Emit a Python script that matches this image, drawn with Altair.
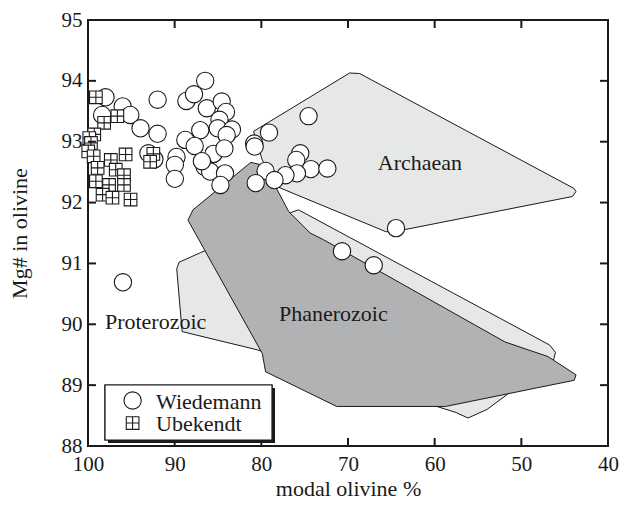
import altair as alt
import pandas as pd

# ---- data ----
W_X = [97.98, 96.0, 98.37, 95.12, 91.97, 93.94, 91.97, 93.03, 92.34, 89.79, 89.98, 89.98,
       88.65, 87.77, 86.48, 86.29, 84.57, 84.08, 84.83, 85.03, 83.39, 84.0, 87.05, 88.77,
       87.69, 85.52, 84.26, 86.55, 85.91, 84.19, 84.72, 86.86,
       74.55, 79.12, 80.83, 80.77, 75.51, 75.97, 74.29, 72.38, 75.89, 77.22, 79.51, 78.48,
       80.65, 64.46, 70.69, 67.03, 95.97]
W_Y = [93.73, 93.58, 93.44, 93.44, 93.69, 93.22, 93.13, 92.81, 92.71, 92.75, 92.62, 92.39,
       93.67, 93.78, 94.0, 93.55, 93.66, 93.49, 93.36, 93.22, 93.20, 93.11, 93.19, 93.03,
       92.93, 92.80, 92.89, 92.59, 92.51, 92.48, 92.29, 92.68,
       93.42, 93.15, 92.97, 92.92, 92.81, 92.70, 92.55, 92.56, 92.48, 92.45, 92.52, 92.37,
       92.32, 91.58, 91.20, 90.97, 90.69]

U_X = [99.09, 96.61, 98.14, 99.28, 99.85, 99.66, 99.97, 99.35, 97.37, 95.66, 92.46, 92.83,
       98.89, 96.8, 95.85, 99.09, 97.57, 95.85, 98.32, 97.18, 95.09]
U_Y = [93.73, 93.42, 93.31, 93.12, 93.06, 92.98, 92.84, 92.76, 92.70, 92.79, 92.80, 92.67,
       92.57, 92.54, 92.45, 92.35, 92.29, 92.29, 92.13, 92.08, 92.05]

ARCH_X = [80.9, 69.8, 68.65, 43.9, 43.7, 44.1, 63.3, 65.6, 78.17, 79.89, 80.9]
ARCH_Y = [93.17, 94.13, 94.12, 92.23, 92.18, 92.10, 91.56, 91.52, 92.26, 92.70, 93.17]

PROT_X = [89.49, 86.97, 76.34, 75.71, 46.74, 46.06, 46.29, 53.97, 56.15, 57.53, 80.46, 89.14, 89.76, 89.49]
PROT_Y = [91.02, 91.18, 91.85, 91.88, 89.66, 89.54, 89.41, 88.60, 88.46, 88.55, 89.58, 89.88, 90.91, 91.02]

PHAN_X = [88.46, 87.89, 81.22, 80.26, 78.17, 76.83, 74.37, 72.83, 51.89, 46.94, 43.69, 43.89,
          58.74, 71.31, 79.51, 79.89, 88.46]
PHAN_Y = [91.71, 91.88, 92.66, 92.63, 92.21, 91.85, 91.50, 91.39, 89.71, 89.47, 89.17, 89.08,
          88.65, 88.65, 89.22, 89.52, 91.71]

REGION_LABELS = ["Archaean", "Phanerozoic", "Proterozoic"]
REGION_LX = [61.7, 71.7, 92.2]
REGION_LY = [92.65, 90.17, 90.04]

X_TICKS = [100, 90, 80, 70, 60, 50, 40]
Y_TICKS = [88, 89, 90, 91, 92, 93, 94, 95]

SERIES = ["Wiedemann", "Ubekendt"]

# ---- styling ----
FONT = "Liberation Serif"
INK = "#1a1a1a"
LIGHT = "#e6e7e7"
DARK = "#b1b2b4"
W, H = 520, 426

xscale = alt.Scale(domain=[40, 100], reverse=True, nice=False, zero=False)
yscale = alt.Scale(domain=[88, 95], nice=False, zero=False)

X_AX = alt.Axis(values=X_TICKS, title="modal olivine %", ticks=False, domain=False,
                grid=False, labelFlush=False, labelPadding=7, titlePadding=4)
Y_AX = alt.Axis(values=Y_TICKS, title="Mg# in olivine", ticks=False, domain=False,
                grid=False, labelPadding=6, titlePadding=30)

square_cross = "M-1,-1H1V1H-1Z M0,-1V1 M-1,0H1"
SHAPE = alt.Shape("series:N", scale=alt.Scale(domain=SERIES, range=["circle", square_cross]),
                  legend=None)
SIZE = alt.Size("series:N", scale=alt.Scale(domain=SERIES, range=[300, 160]), legend=None)


def xenc(field):
    return alt.X(field, scale=xscale, axis=X_AX)


def yenc(field):
    return alt.Y(field, scale=yscale, axis=Y_AX)


def poly(xs, ys, fill):
    df = pd.DataFrame({"x": xs, "y": ys, "i": list(range(len(xs)))})
    return alt.Chart(df).mark_line(
        fill=fill, stroke=INK, strokeWidth=1, strokeJoin="round"
    ).encode(x=xenc("x:Q"), y=yenc("y:Q"), order="i:Q")


prot = poly(PROT_X, PROT_Y, LIGHT)
phan = poly(PHAN_X, PHAN_Y, DARK)
arch = poly(ARCH_X, ARCH_Y, LIGHT)

labels_df = pd.DataFrame({"label": REGION_LABELS, "x": REGION_LX, "y": REGION_LY})
region_text = alt.Chart(labels_df).mark_text(
    font=FONT, fontSize=22, color=INK
).encode(x=xenc("x:Q"), y=yenc("y:Q"), text="label:N")

pts = pd.DataFrame({
    "x": W_X + U_X,
    "y": W_Y + U_Y,
    "series": [SERIES[0]] * len(W_X) + [SERIES[1]] * len(U_X),
})

point_style = dict(filled=True, fill="white", stroke=INK, strokeWidth=1.1, opacity=1)

points = alt.Chart(pts).mark_point(**point_style).encode(
    x=xenc("x:Q"), y=yenc("y:Q"), shape=SHAPE, size=SIZE,
)

# inward ticks on all four sides, placed through the scales
xt = pd.DataFrame({"x": X_TICKS})
yt = pd.DataFrame({"y": Y_TICKS})
tick_style = dict(color=INK, strokeWidth=2)
x_ticks_bottom = alt.Chart(xt).mark_rule(**tick_style).encode(
    x=xenc("x:Q"), y=alt.value(H), y2=alt.value(H - 8))
x_ticks_top = alt.Chart(xt).mark_rule(**tick_style).encode(
    x=xenc("x:Q"), y=alt.value(0), y2=alt.value(8))
y_ticks_left = alt.Chart(yt).mark_rule(**tick_style).encode(
    y=yenc("y:Q"), x=alt.value(0), x2=alt.value(8))
y_ticks_right = alt.Chart(yt).mark_rule(**tick_style).encode(
    y=yenc("y:Q"), x=alt.value(W), x2=alt.value(W - 8))

# legend box (with drop shadow), symbols and labels
legend_df = pd.DataFrame({"series": SERIES, "row": [0, 1]})
LEG_L, LEG_T, LEG_R, LEG_B = 17, 365, 184, 420
ROW_Y = [380.5, 403]
leg_shadow = alt.Chart(legend_df).mark_rect(color=INK).encode(
    x=alt.value(LEG_L + 3), x2=alt.value(LEG_R + 3),
    y=alt.value(LEG_T + 3), y2=alt.value(LEG_B + 3))
leg_box = alt.Chart(legend_df).mark_rect(fill="white", stroke=INK, strokeWidth=1.2).encode(
    x=alt.value(LEG_L), x2=alt.value(LEG_R), y=alt.value(LEG_T), y2=alt.value(LEG_B))
leg_items = []
for i in range(len(SERIES)):
    base = alt.Chart(legend_df).transform_filter(alt.datum.row == i)
    leg_items.append(base.mark_point(**point_style).encode(
        x=alt.value(44.6), y=alt.value(ROW_Y[i]), shape=SHAPE, size=SIZE))
    leg_items.append(base.mark_text(
        font=FONT, fontSize=22, color=INK, align="left", baseline="middle", dy=1
    ).encode(x=alt.value(68), y=alt.value(ROW_Y[i]), text="series:N"))

chart = alt.layer(
    prot, phan, arch, region_text, points,
    x_ticks_bottom, x_ticks_top, y_ticks_left, y_ticks_right,
    leg_shadow, leg_box, *leg_items,
).properties(
    width=W, height=H,
    autosize=alt.AutoSizeParams(type="none"),
    padding={"left": 80, "top": 12, "right": 11, "bottom": 53},
).configure_view(
    stroke=INK, strokeWidth=2
).configure_axis(
    labelFont=FONT, labelFontSize=21, labelColor=INK,
    titleFont=FONT, titleFontSize=22, titleFontWeight="normal", titleColor=INK,
)

chart.save("out.html", embed_options={"renderer": "svg", "actions": False})
